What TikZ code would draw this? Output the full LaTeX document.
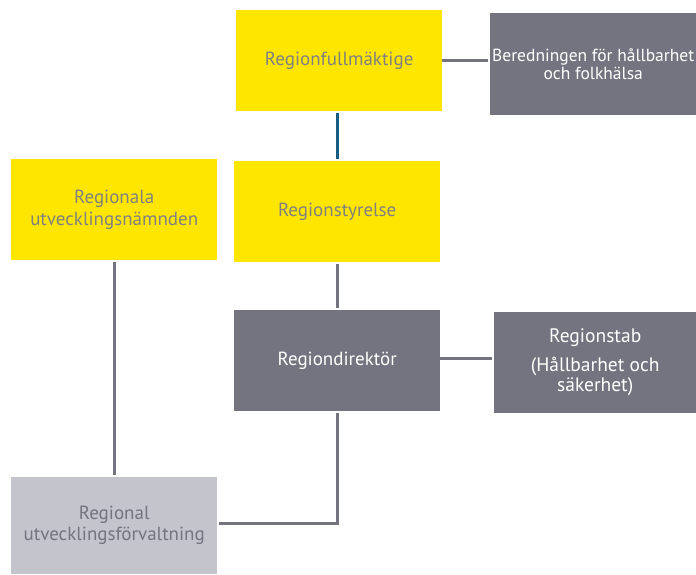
\documentclass[tikz,border=0pt]{standalone}
\usepackage{fontspec}
\setmainfont{PT Sans}
\usepackage{xcolor}
\definecolor{eyyellow}{RGB}{255,230,0}
\definecolor{eydark}{RGB}{116,116,128}
\definecolor{eylight}{RGB}{196,196,205}
\definecolor{eytext}{RGB}{128,128,128}
\definecolor{eyblue}{RGB}{24,92,130}
\newcommand{\widthbox}{206pt}
\newcommand{\heightbox}{101pt}
\tikzset{
    common/.style={anchor=north west, rectangle, align=center, inner sep=1pt,
        minimum width=\widthbox, minimum height=\heightbox, font=\fontsize{19}{22}\selectfont},
    board/.style={common, fill=eyyellow, text=eytext},
    office/.style={common, fill=eydark, text=white},
    admin/.style={common, fill=eylight, text=eydark},
    link/.style={draw=eydark, line width=2.6pt, shorten <=2pt, shorten >=2pt}
}
\begin{document}
\begin{tikzpicture}[x=1pt, y=-1pt]
            \useasboundingbox (0,0) rectangle (696,574);
            \node[board] (RF) at (236,10) {Regionfullmäktige};
            \node[office, minimum height=102pt, font=\fontsize{17.5}{18}\selectfont] (Ber) at (490,13) {Beredningen för hållbarhet\\och folkhälsa};
            \node[board] (RS) at (234,161) {Regionstyrelse};
            \node[board] (RUN) at (11,159) {Regionala\\utvecklingsnämnden};
            \node[office] (RD) at (234,310) {Regiondirektör};
            \node[office, minimum width=202pt, font=\fontsize{19.5}{20}\selectfont] (Stab) at (494,312) {Regionstab\\[9pt](Hållbarhet och\\säkerhet)};
            \node[admin, minimum height=97pt, font=\fontsize{19}{21}\selectfont] (RUF) at (11,477) {Regional\\utvecklingsförvaltning};

            \draw[link, shorten <=0pt] (RF.east) -- (RF.east -| Ber.west);
            \draw[link, draw=eyblue] (RF.south -| RS.north) -- (RS.north);
            \draw[link] (RS.south) -- (RD.north);
            \draw[link, shorten <=0pt] ([yshift=2pt]RD.east) -- ([yshift=2pt]RD.east -| Stab.west);
            \draw[link] (RUN.south) -- (RUF.north);
            \draw[link] (RD.south) |- ([yshift=2pt]RUF.east);
        \end{tikzpicture}
\end{document}
